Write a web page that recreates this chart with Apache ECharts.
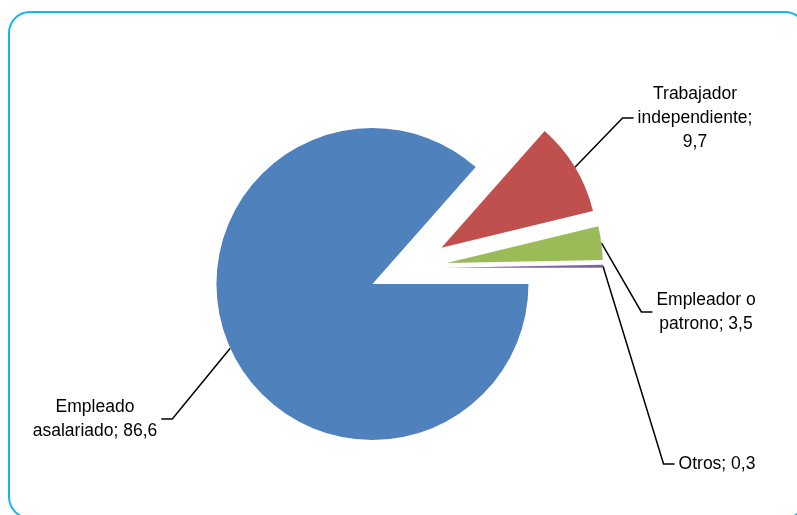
<!DOCTYPE html>
<html>
<head>
<meta charset="utf-8">
<script src="https://cdn.jsdelivr.net/npm/echarts@6/dist/echarts.min.js"></script>
<style>
html,body{margin:0;padding:0;background:#fff;}
#chart{width:797px;height:515px;}
</style>
</head>
<body>
<div id="chart"></div>
<script>
// Data
const categories = ['Empleado asalariado', 'Trabajador independiente', 'Empleador o patrono', 'Otros'];
const values = [86.6, 9.7, 3.5, 0.3];
const labelNames = ['Empleado\nasalariado', 'Trabajador\nindependiente', 'Empleador o\npatrono', 'Otros'];
const valueSeparators = ['; ', ';\n', '; ', '; '];
const colors = ['#4F81BD', '#C0504D', '#9BBB59', '#8064A2'];

// Layout
const pieCenter = [408, 268];
const pieRadius = 156;
const explode = 39;
const labelPos = [[95, 419], [695, 118], [706, 312], [717, 464]];

const total = values.reduce((a, b) => a + b, 0);
// mid angle of each slice (clockwise from 3 o'clock, startAngle 0)
let acc = 0;
const midAngles = values.map(v => { const m = (acc + v / 2) / total * 2 * Math.PI; acc += v; return m; });

const chart = echarts.init(document.getElementById('chart'), null, {renderer: 'canvas'});

const series = categories.map((cat, k) => ({
  type: 'pie',
  name: cat,
  center: [pieCenter[0] + explode * Math.cos(midAngles[k]), pieCenter[1] + explode * Math.sin(midAngles[k])],
  radius: [0, pieRadius],
  startAngle: 0,
  clockwise: true,
  avoidLabelOverlap: false,
  emphasis: {disabled: true},
  silent: true,
  labelLine: {show: true, length: 15, length2: 11, lineStyle: {color: '#000', width: 1.5}},
  labelLayout: function (params) {
    const p = labelPos[params.dataIndex];
    return {x: p[0], y: p[1], align: 'center', verticalAlign: 'middle'};
  },
  data: categories.map((c, i) => ({
    name: c,
    value: values[i],
    itemStyle: {color: i === k ? colors[i] : 'rgba(0,0,0,0)'},
    label: i === k ? {
      show: true,
      position: 'outside',
      color: '#000',
      fontFamily: '"Liberation Sans", Arial, sans-serif',
      fontSize: 17.5,
      lineHeight: 24,
      padding: [0, 4],
      formatter: labelNames[i] + valueSeparators[i] + values[i].toFixed(1).replace('.', ',')
    } : {show: false},
    labelLine: {show: i === k}
  }))
}));

chart.setOption({
  animation: false,
  graphic: [{
    type: 'rect',
    shape: {x: 9, y: 12, width: 797, height: 506, r: 21},
    style: {fill: 'none', stroke: '#13B5EE', lineWidth: 2},
    silent: true
  }],
  series: series
});
</script>
</body>
</html>
